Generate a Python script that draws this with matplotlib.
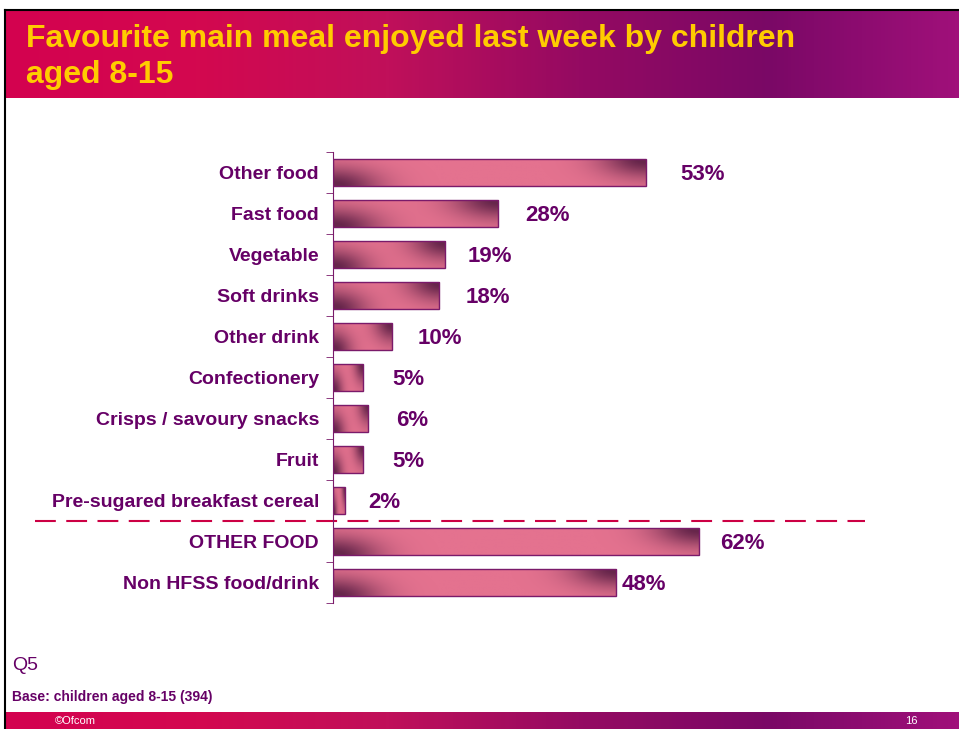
import numpy as np
import matplotlib
matplotlib.use("Agg")
import matplotlib.pyplot as plt
from matplotlib.colors import LinearSegmentedColormap
from matplotlib.patches import Rectangle
from matplotlib.transforms import blended_transform_factory

plt.rcParams["font.family"] = ["Liberation Sans", "DejaVu Sans"]

categories = ["Other food", "Fast food", "Vegetable", "Soft drinks", "Other drink",
              "Confectionery", "Crisps / savoury snacks", "Fruit",
              "Pre-sugared breakfast cereal", "OTHER FOOD", "Non HFSS food/drink"]
values = [53, 28, 19, 18, 10, 5, 6, 5, 2, 62, 48]
value_labels = ["53%", "28%", "19%", "18%", "10%", "5%", "6%", "5%", "2%", "62%", "48%"]

title = "Favourite main meal enjoyed last week by children\naged 8-15"
purple = "#660066"

W, H = 959, 729
fig = plt.figure(figsize=(W / 100, H / 100), dpi=100)
fig.patch.set_facecolor("white")


def fx(px):
    return px / W


def fy(py):
    return 1 - py / H


# black frame lines
fig.add_artist(plt.Line2D([fx(5), fx(5)], [0, fy(10)], color="black", lw=1.5))
fig.add_artist(plt.Line2D([fx(5), 1], [fy(10), fy(10)], color="black", lw=1.5))

band_cmap = LinearSegmentedColormap.from_list(
    "band", ["#d4024f", "#d3084f", "#c0105a", "#950a62", "#7a0866", "#a0107a"])
grad = np.linspace(0, 1, 256).reshape(1, -1)

# header band
hax = fig.add_axes([fx(6), fy(98), 1 - fx(6), (98 - 11) / H])
hax.imshow(grad, aspect="auto", cmap=band_cmap, extent=[0, 1, 0, 1])
hax.axis("off")
fig.text(fx(26), fy(57), title, color="#ffcc00", fontsize=23, fontweight="bold",
         va="center", ha="left", linespacing=1.3)

# footer band
fax = fig.add_axes([fx(6), 0, 1 - fx(6), (729 - 712) / H])
fax.imshow(grad, aspect="auto", cmap=band_cmap, extent=[0, 1, 0, 1])
fax.axis("off")
fig.text(fx(55), fy(721), "\u00a9Ofcom", color="white", fontsize=8, va="center")
fig.text(fx(905), fy(721), "16", color="white", fontsize=8, va="center")

fig.text(fx(12), fy(665), "Q5", color=purple, fontsize=14, va="center")
fig.text(fx(12), fy(697), "Base: children aged 8-15 (394)", color=purple,
         fontsize=10, fontweight="bold", va="center")

# main chart
ax = fig.add_axes([fx(333), fy(603), fx(746) - fx(333), (603 - 152) / H])
y = np.arange(len(categories))
ax.set_xlim(0, 70)
ax.set_ylim(len(categories) - 0.5, -0.5)

bar_h = 0.68
bar_cmap = LinearSegmentedColormap.from_list("bar", ["#e4728f", "#5a1e44"])
px_per_unit = (746 - 333) / 70
bar_px = bar_h * 41
for i, v in enumerate(values):
    rect = Rectangle((0, i - bar_h / 2), v, bar_h, facecolor="none",
                     edgecolor="#7a1a6a", lw=1.0, zorder=3)
    ax.add_patch(rect)
    wpx = max(int(v * px_per_unit), 2)
    hpx = int(bar_px)
    sx = min(45.0, wpx * 0.3)
    xx, yy = np.meshgrid(np.arange(wpx), np.arange(hpx))
    # yy=0 is the top of the bar in the image
    d_bl = np.exp(-(xx / sx) ** 2 - ((hpx - yy) / 18.0) ** 2)
    d_tr = np.exp(-((wpx - xx) / sx) ** 2 - (yy / 18.0) ** 2)
    dark = np.clip(0.95 * (d_bl + d_tr), 0, 0.9)
    im = ax.imshow(dark, cmap=bar_cmap, vmin=0, vmax=1, aspect="auto",
                   extent=[0, v, i + bar_h / 2, i - bar_h / 2], zorder=2,
                   interpolation="bilinear")
    im.set_clip_path(rect)

offsets = [5.8, 4.6, 3.9, 4.4, 4.4, 5.0, 4.7, 5.0, 4.0, 3.6, 1.0]
for i, (v, lab) in enumerate(zip(values, value_labels)):
    ax.text(v + offsets[i], i + 0.04, lab, color=purple, fontsize=16,
            fontweight="bold", va="center", ha="left")

ax.set_yticks(y)
ax.set_yticklabels(categories, color=purple, fontsize=14, fontweight="bold")
ax.tick_params(axis="y", which="major", length=0, pad=10)
ax.set_yticks(np.arange(-0.5, len(categories), 1), minor=True)
ax.tick_params(axis="y", which="minor", length=5, color="#7a1a6a", direction="out")
ax.set_xticks([])
for s in ["top", "right", "bottom"]:
    ax.spines[s].set_visible(False)
ax.spines["left"].set_color("#7a1a6a")
ax.patch.set_alpha(0)

# dashed separator
tr = blended_transform_factory(fig.transFigure, ax.transData)
sep = plt.Line2D([fx(35), fx(865)], [8.5, 8.5], transform=tr, color="#cc0044",
                 lw=1.5, dashes=(10, 5), clip_on=False)
ax.add_artist(sep)

fig.savefig("out.png", dpi=100)
